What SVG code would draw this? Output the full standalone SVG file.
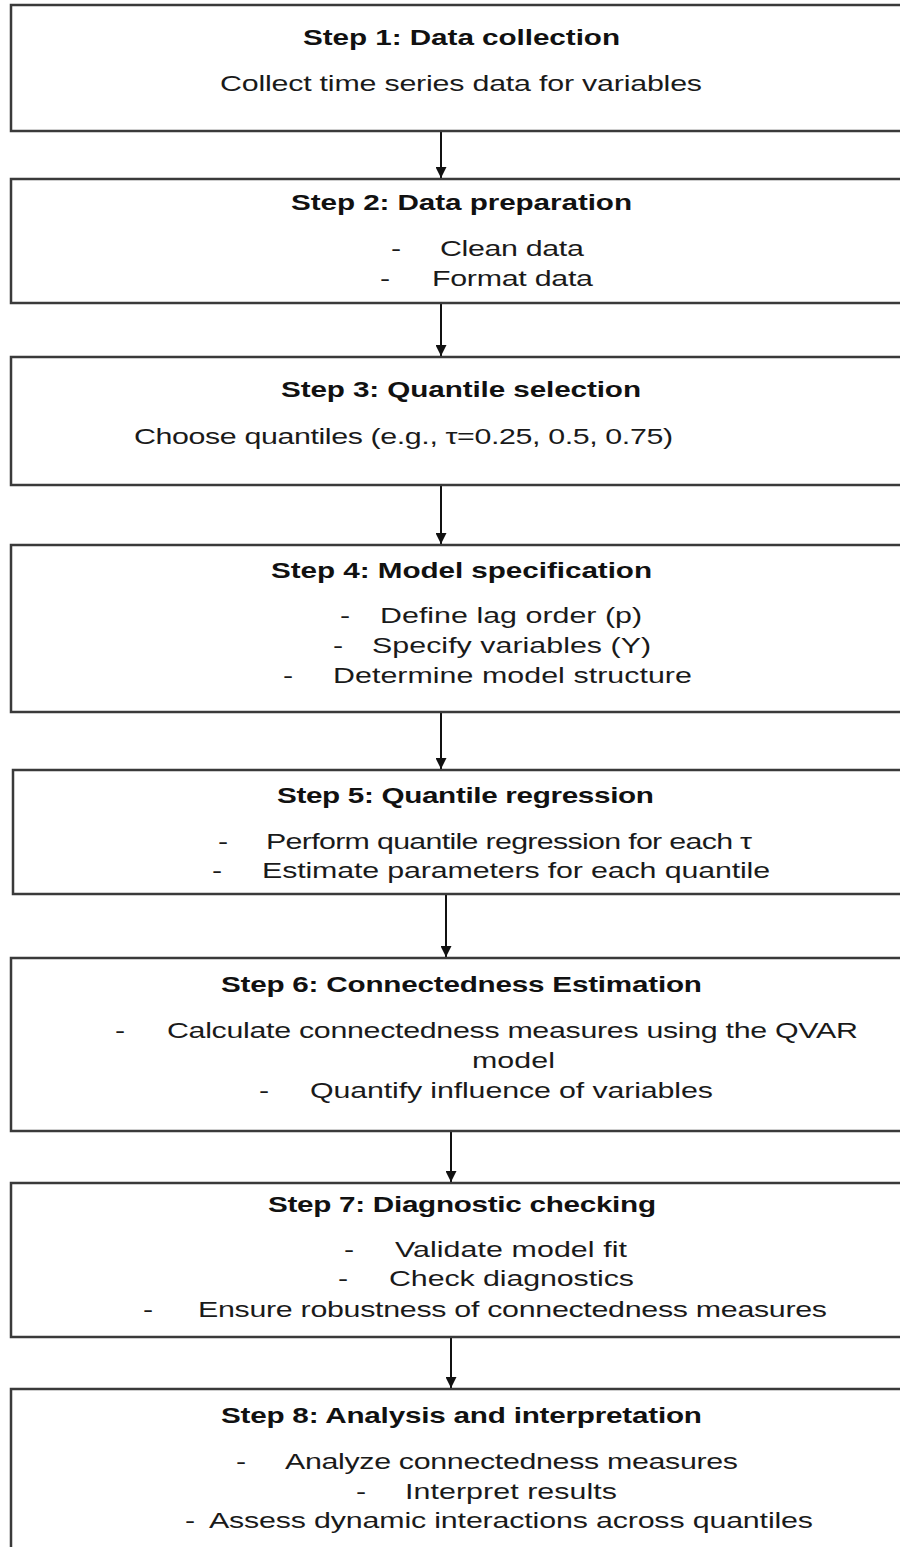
<svg xmlns="http://www.w3.org/2000/svg" width="900" height="1547" viewBox="0 0 900 1547">
<style>
.box{fill:#ffffff;stroke:#3a3a3a;stroke-width:2.5}
.t{font-family:"Liberation Sans",Arial,sans-serif;font-size:21.5px;font-weight:bold;fill:#111}
.b{font-family:"Liberation Sans",Arial,sans-serif;font-size:22px;fill:#1a1a1a}
.c{stroke:#111;stroke-width:2;fill:none}
</style>
<defs>
<marker id="ah" viewBox="0 0 10 10" refX="10" refY="5" markerWidth="5.5" markerHeight="5.5" orient="auto" markerUnits="strokeWidth">
<path d="M0,0 L10,5 L0,10 z" fill="#111"/>
</marker>
</defs>
<rect width="900" height="1547" fill="#ffffff"/>
<g id="connectors">
<line class="c" x1="441" y1="132" x2="441" y2="178" marker-end="url(#ah)"/>
<line class="c" x1="441" y1="304" x2="441" y2="356" marker-end="url(#ah)"/>
<line class="c" x1="441" y1="486" x2="441" y2="544" marker-end="url(#ah)"/>
<line class="c" x1="441" y1="713" x2="441" y2="769" marker-end="url(#ah)"/>
<line class="c" x1="446" y1="895" x2="446" y2="957" marker-end="url(#ah)"/>
<line class="c" x1="451" y1="1132" x2="451" y2="1182" marker-end="url(#ah)"/>
<line class="c" x1="451" y1="1338" x2="451" y2="1388" marker-end="url(#ah)"/>
</g>
<g id="step1">
<rect class="box" x="11" y="5" width="900" height="126"/>
<g transform="scale(1.38,1)">
<text class="t" x="219.6" y="45" textLength="229.7">Step 1: Data collection</text>
<text class="b" x="159.4" y="91" textLength="349.3">Collect time series data for variables</text>
</g>
</g>
<g id="step2">
<rect class="box" x="11" y="179" width="900" height="124"/>
<g transform="scale(1.38,1)">
<text class="t" x="210.9" y="210" textLength="247.1">Step 2: Data preparation</text>
<text class="b" x="283.3" y="256">-</text>
<text class="b" x="318.8" y="256" textLength="104.3">Clean data</text>
<text class="b" x="275.4" y="286">-</text>
<text class="b" x="313.0" y="286" textLength="116.7">Format data</text>
</g>
</g>
<g id="step3">
<rect class="box" x="11" y="357" width="900" height="128"/>
<g transform="scale(1.38,1)">
<text class="t" x="203.6" y="397" textLength="260.9">Step 3: Quantile selection</text>
<text class="b" x="97.1" y="444" textLength="390.6">Choose quantiles (e.g., τ=0.25, 0.5, 0.75)</text>
</g>
</g>
<g id="step4">
<rect class="box" x="11" y="545" width="900" height="167"/>
<g transform="scale(1.38,1)">
<text class="t" x="196.4" y="578" textLength="276.1">Step 4: Model specification</text>
<text class="b" x="246.4" y="623">-</text>
<text class="b" x="275.4" y="623" textLength="189.9">Define lag order (p)</text>
<text class="b" x="241.3" y="653">-</text>
<text class="b" x="269.6" y="653" textLength="202.2">Specify variables (Y)</text>
<text class="b" x="205.1" y="683">-</text>
<text class="b" x="241.3" y="683" textLength="260.1">Determine model structure</text>
</g>
</g>
<g id="step5">
<rect class="box" x="13" y="770" width="900" height="124"/>
<g transform="scale(1.38,1)">
<text class="t" x="200.7" y="803" textLength="273.2">Step 5: Quantile regression</text>
<text class="b" x="158.0" y="849">-</text>
<text class="b" x="192.8" y="849" textLength="352.2">Perform quantile regression for each τ</text>
<text class="b" x="153.6" y="878">-</text>
<text class="b" x="189.9" y="878" textLength="368.1">Estimate parameters for each quantile</text>
</g>
</g>
<g id="step6">
<rect class="box" x="11" y="958" width="900" height="173"/>
<g transform="scale(1.38,1)">
<text class="t" x="160.1" y="992" textLength="348.6">Step 6: Connectedness Estimation</text>
<text class="b" x="83.3" y="1038">-</text>
<text class="b" x="121.0" y="1038" textLength="500.7">Calculate connectedness measures using the QVAR</text>
<text class="b" x="342.0" y="1068" textLength="60.1">model</text>
<text class="b" x="187.7" y="1098">-</text>
<text class="b" x="224.6" y="1098" textLength="292.0">Quantify influence of variables</text>
</g>
</g>
<g id="step7">
<rect class="box" x="11" y="1183" width="900" height="154"/>
<g transform="scale(1.38,1)">
<text class="t" x="194.2" y="1212" textLength="281.2">Step 7: Diagnostic checking</text>
<text class="b" x="249.3" y="1257">-</text>
<text class="b" x="286.2" y="1257" textLength="168.1">Validate model fit</text>
<text class="b" x="244.9" y="1286">-</text>
<text class="b" x="281.9" y="1286" textLength="177.5">Check diagnostics</text>
<text class="b" x="103.6" y="1317">-</text>
<text class="b" x="143.5" y="1317" textLength="455.8">Ensure robustness of connectedness measures</text>
</g>
</g>
<g id="step8">
<rect class="box" x="11" y="1389" width="900" height="170"/>
<g transform="scale(1.38,1)">
<text class="t" x="160.1" y="1423" textLength="348.6">Step 8: Analysis and interpretation</text>
<text class="b" x="171.0" y="1469">-</text>
<text class="b" x="206.5" y="1469" textLength="328.3">Analyze connectedness measures</text>
<text class="b" x="258.0" y="1499">-</text>
<text class="b" x="293.5" y="1499" textLength="153.6">Interpret results</text>
<text class="b" x="134.1" y="1528">-</text>
<text class="b" x="151.4" y="1528" textLength="437.7">Assess dynamic interactions across quantiles</text>
</g>
</g>
</svg>
